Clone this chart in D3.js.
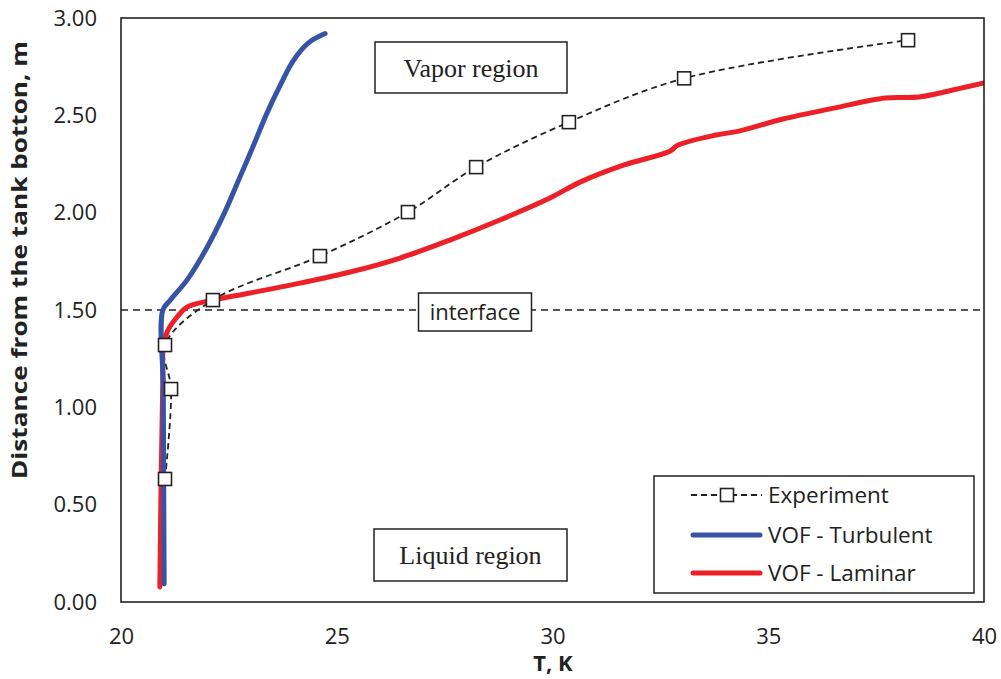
<!DOCTYPE html>
<html>
<head>
<meta charset="utf-8">
<script src="https://cdn.jsdelivr.net/npm/d3@7/dist/d3.min.js"></script>
<style>
  html, body { margin: 0; padding: 0; background: #fff; }
  svg { display: block; }
</style>
</head>
<body>
<svg id="chart" width="1001" height="679"></svg>
<script>
// ---- Data ----
const xTicks = [20, 25, 30, 35, 40];
const yTicks = [0, 0.5, 1.0, 1.5, 2.0, 2.5, 3.0];

const expT = [21.02, 21.16, 21.02, 22.13, 24.61, 26.65, 28.23, 30.38, 33.05, 38.24];
const expH = [0.632, 1.094, 1.32, 1.551, 1.777, 2.003, 2.234, 2.465, 2.69, 2.886];

const turbT = [21.00, 20.99, 20.98, 20.97, 21.14, 21.55, 21.99, 22.40, 22.75, 23.06, 23.38, 23.68, 23.99, 24.33, 24.73];
const turbH = [0.092, 0.60, 1.10, 1.50, 1.55, 1.66, 1.82, 2.00, 2.18, 2.34, 2.51, 2.65, 2.78, 2.87, 2.92];

const lamT = [20.90, 20.93, 20.97, 20.98, 21.09, 21.30, 21.53, 22.13, 22.99, 24.15, 25.31, 26.47, 27.62, 28.78, 29.94, 30.64, 31.66, 32.72, 32.91, 33.79, 34.32, 35.34, 36.52, 37.71, 38.49, 39.28, 40.0];
const lamH = [0.077, 0.627, 1.14, 1.31, 1.397, 1.464, 1.515, 1.551, 1.587, 1.638, 1.695, 1.767, 1.859, 1.962, 2.075, 2.157, 2.245, 2.316, 2.347, 2.399, 2.419, 2.481, 2.537, 2.589, 2.594, 2.630, 2.666];

const interfaceH = 1.5;
const seriesNames = ["Experiment", "VOF - Turbulent", "VOF - Laminar"];
const regionLabels = ["Vapor region", "interface", "Liquid region"];

// ---- Layout ----
const L = 121, R = 984, T = 18, B = 602;
const svg = d3.select("#chart");
const x = d3.scaleLinear().domain([20, 40]).range([L, R]);
const y = d3.scaleLinear().domain([0, 3]).range([B, T]);

const sans = "'Open Sans', 'DejaVu Sans', sans-serif";
const serif = "'Liberation Serif', 'DejaVu Serif', serif";
const blue = "#3753a5", red = "#ee2027", ink = "#222";

svg.append("clipPath").attr("id", "clip")
  .append("rect").attr("x", L).attr("y", T).attr("width", R - L).attr("height", B - T);

// axes
const xAxis = svg.append("g").attr("transform", `translate(0,${B})`)
  .call(d3.axisBottom(x).tickValues(xTicks).tickSize(0).tickPadding(26).tickFormat(d3.format("d")));
const yAxis = svg.append("g").attr("transform", `translate(${L},0)`)
  .call(d3.axisLeft(y).tickValues(yTicks).tickSize(0).tickPadding(24).tickFormat(d3.format(".2f")));
[xAxis, yAxis].forEach(g => {
  g.select(".domain").remove();
  g.selectAll("text").attr("font-family", sans).attr("font-size", 22).attr("fill", ink);
});

// interface line
svg.append("line")
  .attr("x1", L).attr("x2", R).attr("y1", y(interfaceH)).attr("y2", y(interfaceH))
  .attr("stroke", ink).attr("stroke-width", 1.6).attr("stroke-dasharray", "7,5");

// region boxes
function labelBox(cx, cy, w, h, text, font, size) {
  svg.append("rect").attr("x", cx - w / 2).attr("y", cy - h / 2).attr("width", w).attr("height", h)
    .attr("fill", "#fff").attr("stroke", ink).attr("stroke-width", 1.5);
  svg.append("text").attr("x", cx).attr("y", cy).attr("dy", "0.35em")
    .attr("text-anchor", "middle").attr("font-family", font).attr("font-size", size)
    .attr("fill", ink).text(text);
}
labelBox(471, 67.5, 192, 51, regionLabels[0], serif, 26);
labelBox(475, 312, 113, 38, regionLabels[1], sans, 22);
labelBox(470.5, 555, 193, 52, regionLabels[2], serif, 26);

// series
const plot = svg.append("g").attr("clip-path", "url(#clip)");
const line = d3.line().x(d => x(d[0])).y(d => y(d[1])).curve(d3.curveCatmullRom.alpha(0.5));

const expData = expT.map((t, i) => [t, expH[i]]);
const turbData = turbT.map((t, i) => [t, turbH[i]]);
const lamData = lamT.map((t, i) => [t, lamH[i]]);

plot.append("path").datum(expData).attr("d", line)
  .attr("fill", "none").attr("stroke", ink).attr("stroke-width", 1.8).attr("stroke-dasharray", "6,4");
svg.append("path").datum(turbData).attr("d", line)
  .attr("fill", "none").attr("stroke", blue).attr("stroke-width", 5).attr("stroke-linecap", "round");
plot.append("path").datum(lamData).attr("d", line)
  .attr("fill", "none").attr("stroke", red).attr("stroke-width", 5).attr("stroke-linecap", "round");

svg.selectAll("rect.marker").data(expData).enter().append("rect").attr("class", "marker")
  .attr("x", d => x(d[0]) - 6.5).attr("y", d => y(d[1]) - 6.5).attr("width", 13).attr("height", 13)
  .attr("fill", "#fff").attr("stroke", ink).attr("stroke-width", 1.6);

// frame
svg.append("rect").attr("x", L).attr("y", T).attr("width", R - L).attr("height", B - T)
  .attr("fill", "none").attr("stroke", ink).attr("stroke-width", 1.6);

// legend
const lg = svg.append("g");
lg.append("rect").attr("x", 654).attr("y", 476).attr("width", 320).attr("height", 117)
  .attr("fill", "#fff").attr("stroke", ink).attr("stroke-width", 1.5);
const rows = [495, 535, 573];
lg.append("line").attr("x1", 691).attr("x2", 762).attr("y1", rows[0]).attr("y2", rows[0])
  .attr("stroke", ink).attr("stroke-width", 1.8).attr("stroke-dasharray", "6,4");
lg.append("rect").attr("x", 720.5).attr("y", rows[0] - 6.5).attr("width", 13).attr("height", 13)
  .attr("fill", "#fff").attr("stroke", ink).attr("stroke-width", 1.6);
lg.append("line").attr("x1", 693).attr("x2", 760).attr("y1", rows[1]).attr("y2", rows[1])
  .attr("stroke", blue).attr("stroke-width", 5).attr("stroke-linecap", "round");
lg.append("line").attr("x1", 693).attr("x2", 760).attr("y1", rows[2]).attr("y2", rows[2])
  .attr("stroke", red).attr("stroke-width", 5).attr("stroke-linecap", "round");
seriesNames.forEach((n, i) => {
  lg.append("text").attr("x", 768).attr("y", rows[i]).attr("dy", "0.35em")
    .attr("font-family", sans).attr("font-size", 22.5).attr("fill", ink).text(n);
});

// axis titles
svg.append("text").attr("x", 553).attr("y", 663).attr("dy", "0.35em").attr("text-anchor", "middle")
  .attr("font-family", sans).attr("font-weight", "bold").attr("font-size", 22).attr("fill", ink).text("T, K");
svg.append("text").attr("transform", `translate(20,260) rotate(-90)`)
  .attr("dy", "0.35em").attr("text-anchor", "middle")
  .attr("font-family", sans).attr("font-weight", "bold").attr("font-size", 21).attr("fill", ink)
  .attr("textLength", 438).attr("lengthAdjust", "spacingAndGlyphs")
  .text("Distance from the tank botton, m");
</script>
</body>
</html>
